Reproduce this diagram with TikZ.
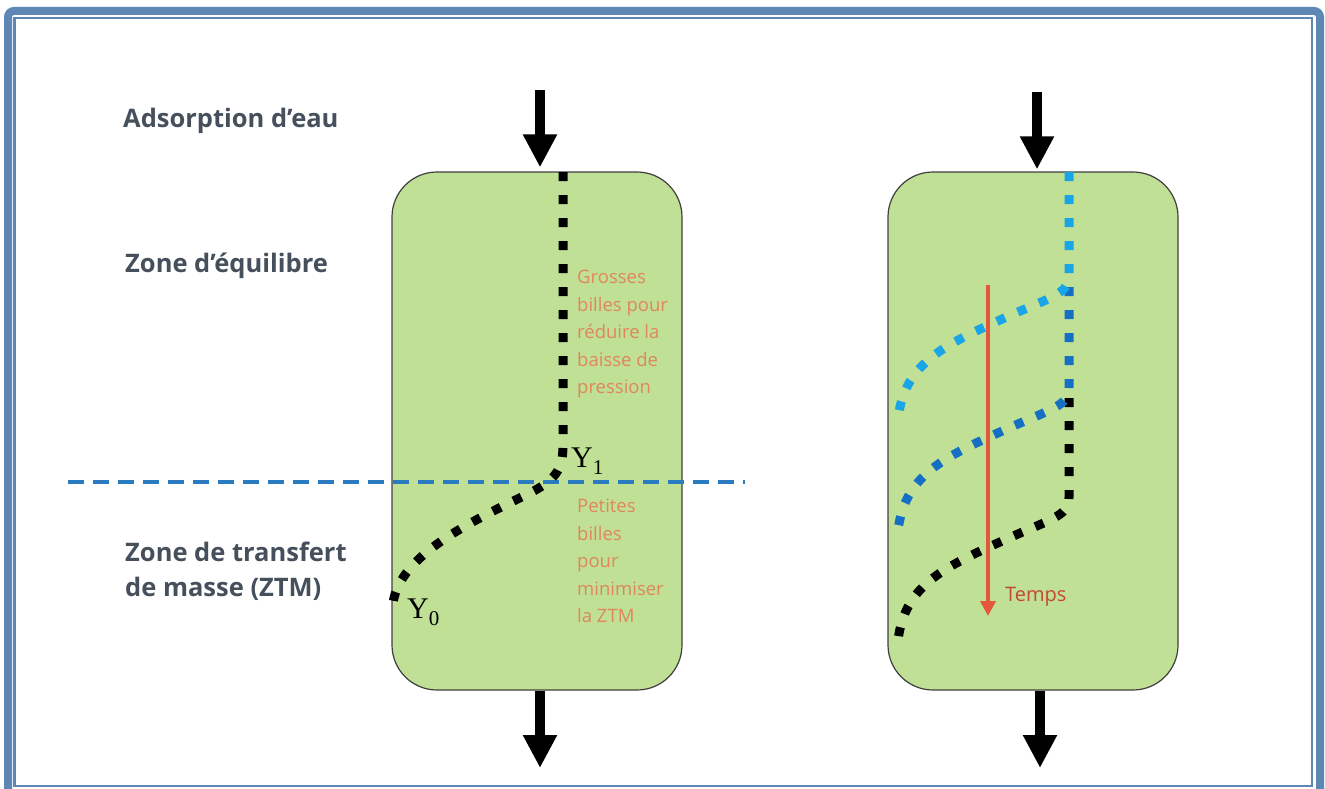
\documentclass[tikz,border=0pt]{standalone}
\usepackage{fontspec}
\setmainfont{Open Sans}
\newfontfamily\serifY{Liberation Serif}
\usepackage{tikz}
\usetikzlibrary{arrows.meta,positioning,calc}

\definecolor{framecol}{HTML}{5F87B6}
\definecolor{boxgreen}{HTML}{C0E096}
\definecolor{labelgray}{HTML}{45505C}
\definecolor{noteorange}{HTML}{E0875A}
\definecolor{timered}{HTML}{E4573A}
\definecolor{frontcyan}{HTML}{1AA6E6}
\definecolor{frontblue}{HTML}{1570C4}
\definecolor{limitblue}{HTML}{2A7BC0}

\newcommand{\ylab}[1]{{\serifY Y\raisebox{-7pt}{\fontsize{21}{21}\selectfont #1}}}

\begin{document}
\begin{tikzpicture}[
    x=1pt, y=-1pt,
    column/.style={rectangle, draw=black!75, line width=1.2pt, fill=boxgreen, minimum width=290pt, minimum height=518pt, rounded corners=45pt},
    flow/.style={-{Triangle[width=32pt,length=33pt]}, line width=10pt, black},
    front/.style={line width=9pt, dash pattern=on 9pt off 14pt},
    zonelabel/.style={anchor=west, font=\fontsize{25.5}{35}\selectfont\bfseries, text=labelgray, align=left, inner sep=0pt},
    note/.style={anchor=north west, font=\fontsize{18.5}{27.5}\selectfont, text=noteorange, align=left, inner sep=0pt},
    ylabel/.style={anchor=west, font=\fontsize{30}{30}\selectfont, inner sep=0pt},
    timeline/.style={-{Triangle[width=15pt,length=15pt]}, line width=4pt, timered}
]
\clip (0,0) rectangle (1325,789);
\fill[white] (0,0) rectangle (1325,789);

% cadre
\draw[framecol, line width=8pt, rounded corners=6pt] (8,11) rectangle (1320,805);
\draw[framecol, line width=2.5pt] (14.5,18) rectangle (1312,786);

% colonnes
\node[column] (boxL) at (537,431) {};
\node[column] (boxR) at (1033,431) {};

\coordinate (inL) at (540,90);
\coordinate (outL) at (540,768);
\coordinate (inR) at (1037,92);
\coordinate (outR) at (1040,768);

\draw[flow] (inL) -- ($(inL |- boxL.north)+(0,-4)$);
\draw[flow] (boxL.south -| outL) -- (outL);
\draw[flow] (inR) -- ($(inR |- boxR.north)+(0,-2)$);
\draw[flow] (boxR.south -| outR) -- (outR);

% textes de gauche
\node[zonelabel] (ads) at (123,121) {Adsorption d’eau};
\node[zonelabel] (equi) at (125,266) {Zone d’équilibre};
\node[zonelabel] (ztm) at (125,571) {Zone de transfert\\de masse (ZTM)};

% limite entre les zones
\coordinate (limA) at (68,482);
\coordinate (limB) at (745,482);
\draw[limitblue, line width=3.5pt, dash pattern=on 16pt off 9pt] (limA) -- (limB);

% front dans la colonne de gauche
\draw[front] (563,172) -- (563,445) .. controls (563,470) and (555,480) .. (530,493)
    .. controls (470,522) and (400,555) .. (393,603);
\node[ylabel] (y1) at (571,461) {\ylab{1}};
\node[ylabel] (y0) at (407,612) {\ylab{0}};

\node[note] (big) at (577,270) {Grosses\\billes pour\\réduire la\\baisse de\\pression};
\node[note] (small) at (577,499) {Petites\\billes\\pour\\minimiser\\la ZTM};

% fronts dans la colonne de droite
\draw[front, black] (1069,398) -- (1069,497) .. controls (1069,517) and (1050,519) .. (1000,542)
    .. controls (940,569) and (905,587) .. (898,640);
\draw[front, frontblue] (1069,287) -- (1069,387) .. controls (1069,407) and (1050,409) .. (1000,432)
    .. controls (940,459) and (905,477) .. (898,530);
\draw[front, frontcyan] (1069,172) -- (1069,275) .. controls (1069,295) and (1050,297) .. (1000,320)
    .. controls (940,347) and (905,365) .. (898,418);

\coordinate (tStart) at (988,285);
\coordinate (tEnd) at (988,616);
\draw[timeline] (tStart) -- (tEnd);
\node[anchor=west, font=\fontsize{20}{22}\selectfont, text=timered!85!black, inner sep=0pt] (temps) at (1005,597) {Temps};

\end{tikzpicture}
\end{document}
